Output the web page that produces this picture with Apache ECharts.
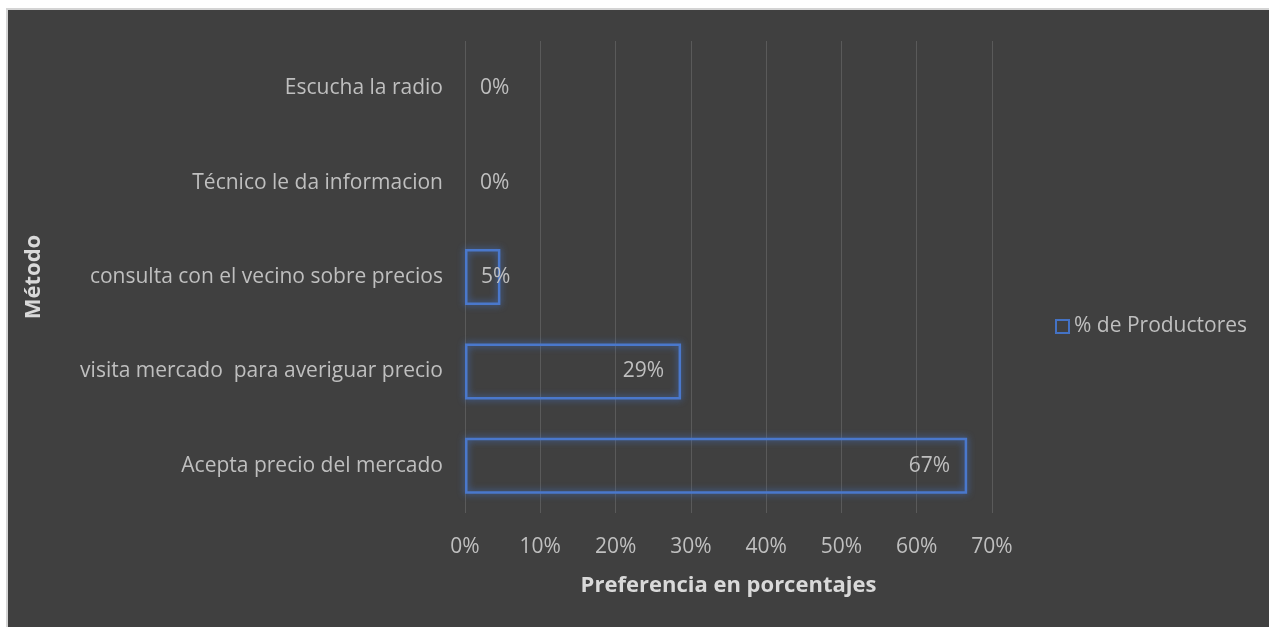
<!DOCTYPE html>
<html>
<head>
<meta charset="utf-8">
<script src="https://cdn.jsdelivr.net/npm/echarts@6/dist/echarts.min.js"></script>
<style>
  html, body { margin: 0; padding: 0; background: #ffffff; width: 1269px; height: 627px; overflow: hidden; }
  #frame {
    position: absolute; left: 6px; top: 8px; width: 1261px; height: 619px;
    background: #404040;
    border-top: 2px solid #d4d4d4; border-left: 2px solid #d4d4d4; border-right: 2px solid #d4d4d4;
  }
  #chart { width: 1261px; height: 619px; }
</style>
</head>
<body>
<div id="frame"><div id="chart"></div></div>
<script>
// Categories listed bottom-to-top (ECharts category axis draws first item at the bottom)
const categories = [
  'Acepta precio del mercado',
  'visita mercado  para averiguar precio',
  'consulta con el vecino sobre precios',
  'Técnico le da informacion',
  'Escucha la radio'
];
const seriesName = '% de Productores';
const values = [0.667, 0.287, 0.047, 0, 0];
const xTicks = [0, 0.1, 0.2, 0.3, 0.4, 0.5, 0.6, 0.7];

const FONT = '"Open Sans", "Noto Sans", sans-serif';
const BLUE = '#4472C4';

function pct(v) { return Math.round(v * 100) + '%'; }

const barData = values.map(function (v) {
  const item = { value: v };
  if (v === 0) {
    // empty bar: no outline, label just right of the axis
    item.itemStyle = { borderWidth: 0, shadowBlur: 0, shadowColor: 'rgba(0,0,0,0)' };
    item.label = { position: 'insideLeft', distance: 15 };
  } else if (v < 0.1) {
    item.label = { position: 'insideRight', distance: 17, offset: [27, 0] };
  }
  return item;
});

const chart = echarts.init(document.getElementById('chart'), null, { renderer: 'canvas' });
chart.setOption({
  backgroundColor: '#404040',
  animation: false,
  textStyle: { fontFamily: FONT },
  grid: { left: 457, top: 31, width: 527, height: 472, containLabel: false },
  legend: {
    data: [seriesName],
    left: 1042, top: 301,
    orient: 'vertical',
    itemWidth: 13, itemHeight: 13, itemGap: 6,
    icon: 'rect',
    itemStyle: { color: 'rgba(0,0,0,0)', borderColor: BLUE, borderWidth: 2 },
    textStyle: { color: '#bfbfbf', fontSize: 21, fontFamily: FONT, padding: [0, 0, 0, 0] }
  },
  xAxis: {
    type: 'value',
    min: 0, max: 0.7, interval: 0.1,
    axisLine: { show: false },
    axisTick: { show: false },
    splitLine: { show: true, lineStyle: { color: '#5a5a5a', width: 1 } },
    axisLabel: {
      color: '#bfbfbf', fontSize: 21, fontFamily: FONT, margin: 24,
      formatter: function (v) {
        const t = xTicks.find(function (x) { return Math.abs(x - v) < 1e-9; });
        return t === undefined ? '' : pct(t);
      }
    },
    name: 'Preferencia en porcentajes',
    nameLocation: 'middle',
    nameGap: 62,
    nameTextStyle: { color: '#d9d9d9', fontSize: 22, fontWeight: 'bold', fontFamily: FONT }
  },
  yAxis: {
    type: 'category',
    data: categories,
    axisLine: { show: false },
    axisTick: { show: false },
    splitLine: { show: false },
    axisLabel: { color: '#bfbfbf', fontSize: 21, fontFamily: FONT, margin: 22 },
    name: 'Método',
    nameLocation: 'middle',
    nameRotate: 90,
    nameGap: 420,
    nameTextStyle: { color: '#d9d9d9', fontSize: 22, fontWeight: 'bold', fontFamily: FONT }
  },
  series: [{
    name: seriesName,
    type: 'bar',
    data: barData,
    barWidth: 56,
    itemStyle: {
      color: 'rgba(0,0,0,0)',
      borderColor: '#4a78cc',
      borderWidth: 2.5,
      shadowBlur: 7,
      shadowColor: 'rgba(68,114,196,1)'
    },
    label: {
      show: true,
      position: 'insideRight',
      distance: 17,
      color: '#bfbfbf',
      fontSize: 21,
      fontFamily: FONT,
      formatter: function (p) { return pct(p.value); }
    }
  }]
});
</script>
</body>
</html>
